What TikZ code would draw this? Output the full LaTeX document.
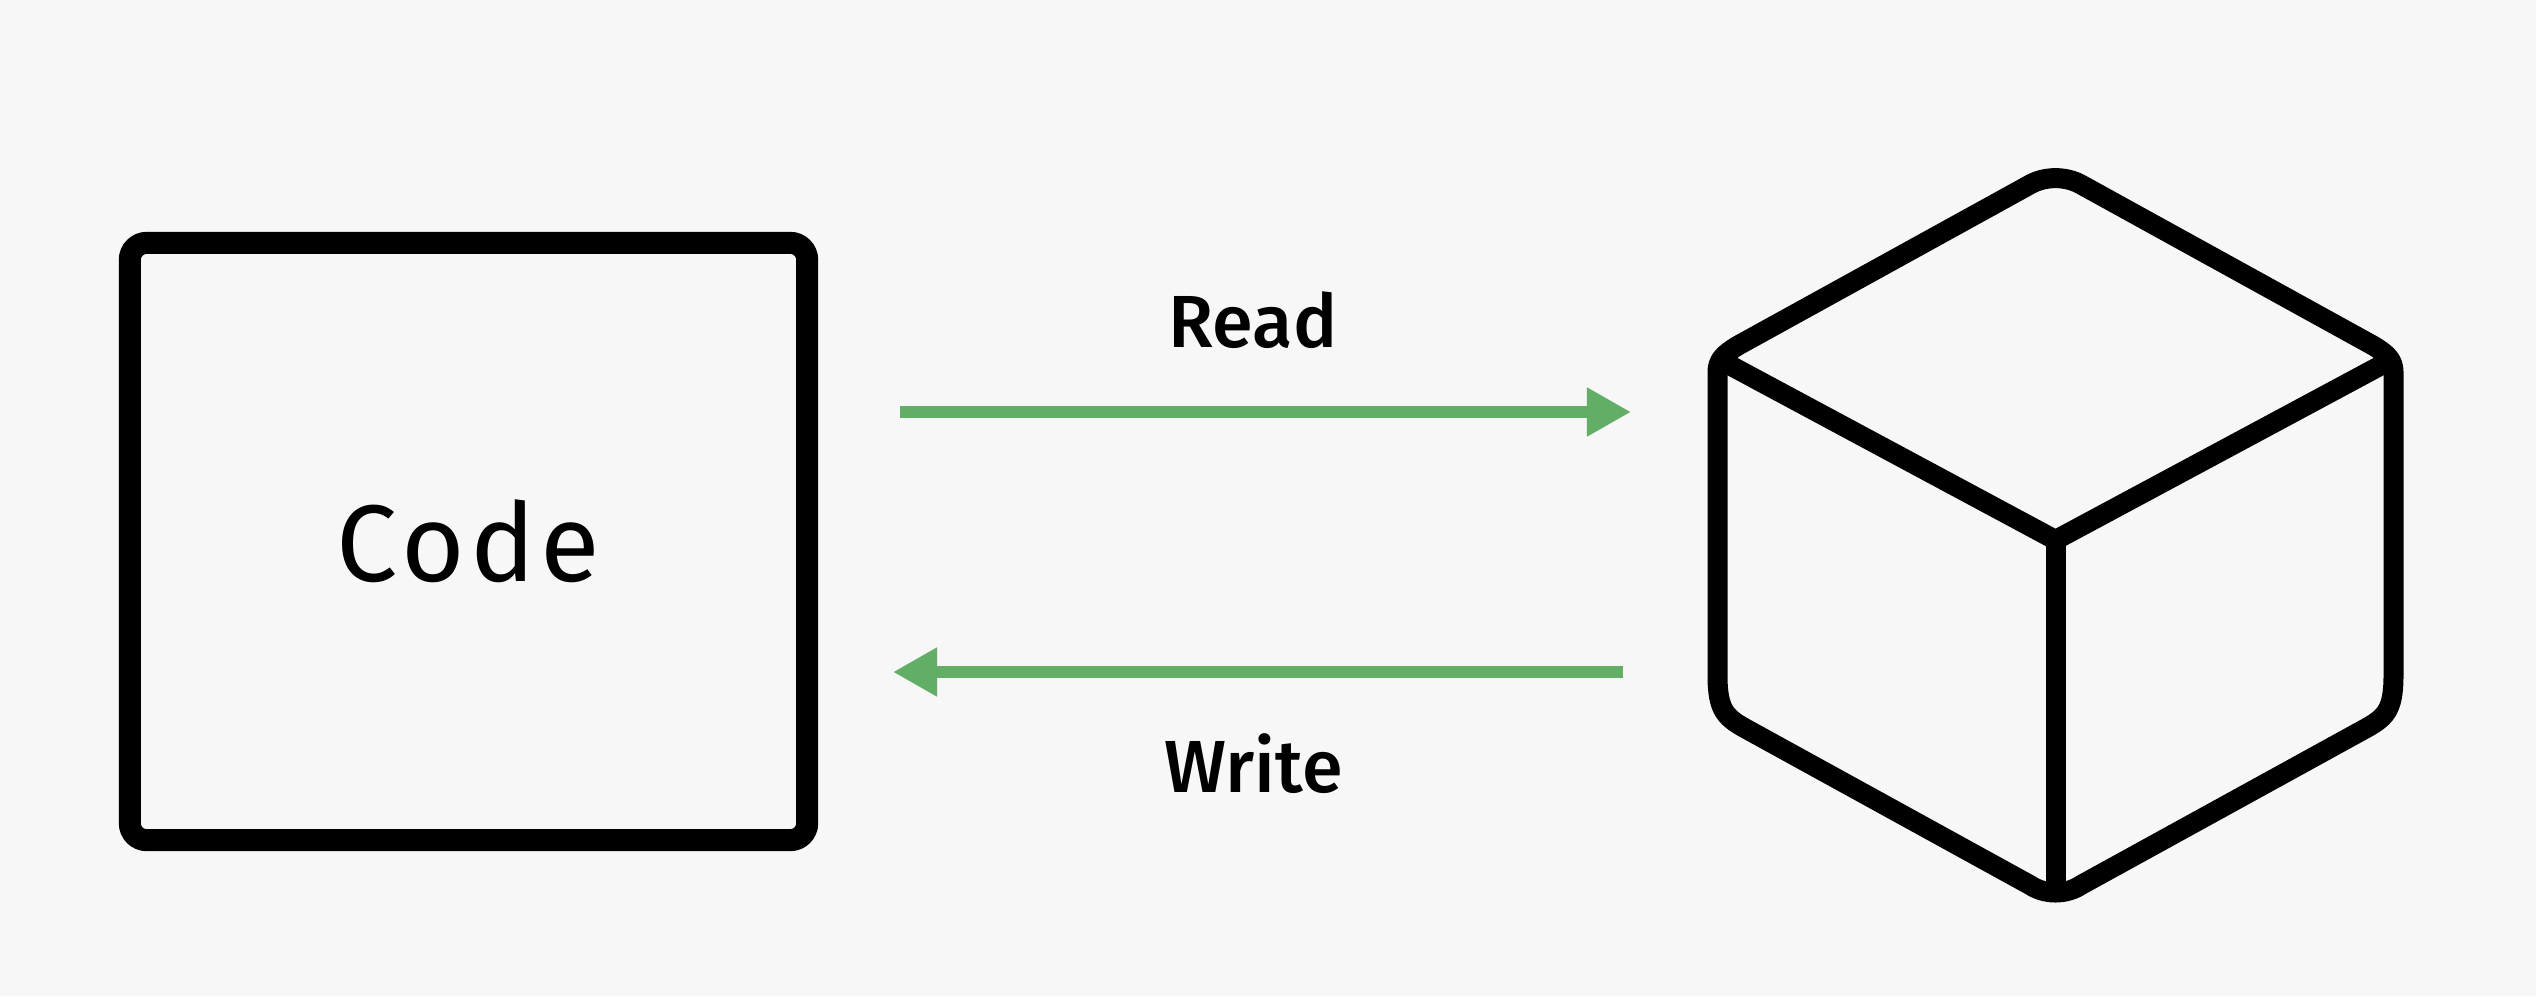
\documentclass[tikz,border=0pt]{standalone}
\usepackage{fontspec}
\usetikzlibrary{arrows.meta}
\setmainfont{Liberation Sans}
\newfontfamily\codefont[LetterSpace=5]{Fira Sans}
\newfontfamily\labelfont{Fira Sans Medium}
\definecolor{bgc}{HTML}{F7F7F7}
\definecolor{arrowgreen}{HTML}{63AE66}
\tikzset{
  codebox/.style={draw=black,line width=0.22cm,rounded corners=0.17cm,minimum width=6.77cm,minimum height=5.97cm,inner sep=0pt,outer sep=0pt,font=\codefont\fontsize{31}{32}\selectfont},
  lbl/.style={inner sep=0pt,font=\labelfont\fontsize{21}{22}\selectfont},
  flow/.style={draw=arrowgreen,line width=0.126cm,-{Triangle[length=0.44cm,width=0.46cm]}},
  cubeline/.style={draw=black,line width=0.2cm,line join=round,line cap=butt}
}
\begin{document}
\begin{tikzpicture}[x=0.01cm,y=-0.01cm]
\useasboundingbox (0,0) rectangle (2536,996);
\fill[bgc] (0,0) rectangle (2536,996);
\node[codebox] (code) at (468.5,541.5) {Code};
\node[lbl] (read) at (1253,320.5) {Read};
\node[lbl] (write) at (1253.5,763.5) {Write};
\coordinate (rs) at (900,412);
\coordinate (re) at (1631,412);
\coordinate (ws) at (1623,672);
\coordinate (we) at (893,672);
\draw[flow] (rs) -- (re);
\draw[flow] (ws) -- (we);
% cube
\coordinate (cl) at (1722,361);
\coordinate (cr) at (2389,361);
\coordinate (cm) at (2055.5,540);
\coordinate (cb) at (2055.5,892);
\draw[cubeline] (1717.5,372) .. controls (1717.5,360) and (1724,354) .. (1738,345.5)
  -- (2030,184.5) .. controls (2045,176) and (2066,176) .. (2081,184.5)
  -- (2373,345.5) .. controls (2387,354) and (2393.5,360) .. (2393.5,372)
  -- (2393.5,675) .. controls (2393.5,712) and (2385,718) .. (2361,731)
  -- (2081,885) .. controls (2066,895) and (2045,895) .. (2030,885)
  -- (1750,731) .. controls (1726,718) and (1717.5,712) .. (1717.5,675)
  -- cycle;
\draw[cubeline] (cl) -- (cm) -- (cr);
\draw[cubeline] (cm) -- (cb);
\end{tikzpicture}
\end{document}
